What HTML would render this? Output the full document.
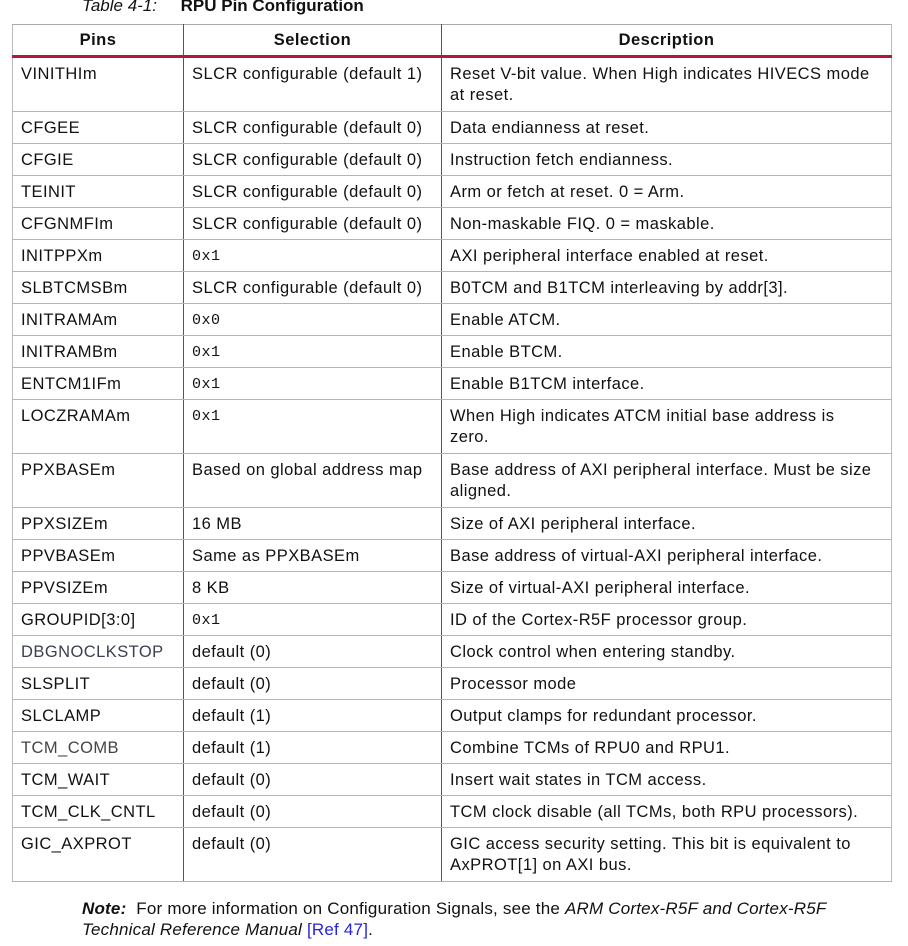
<!DOCTYPE html>
<html><head><meta charset="utf-8"><style>
body{margin:0;width:908px;height:946px;background:#fff;position:relative;overflow:hidden;font-family:"Liberation Sans",sans-serif;color:#111}
.t{position:absolute;top:-4px;left:82px;font-size:17px;white-space:nowrap}
table{position:absolute;left:12px;top:24px;width:879px;border-collapse:collapse;table-layout:fixed;font-size:16.5px;letter-spacing:0.45px}
td,th{border-top:1px solid #b4b4b4;border-bottom:1px solid #b4b4b4;border-left:1px solid #555;border-right:1px solid #555;padding:6px 8px 0 8px;vertical-align:top;line-height:21px;overflow:hidden;white-space:nowrap}
td:first-child,th:first-child{border-left:1px solid #bbb}
td:last-child,th:last-child{border-right:1px solid #bbb}
th{font-weight:bold;text-align:center;height:24px;padding-top:5px;border-bottom:3px solid #b3173c;border-top:1px solid #aaa}
tr{height:32px}
tr.d{height:54px}
td{height:25px}
tr.d td{height:47px;white-space:normal}
.m{font-family:"Liberation Mono",monospace;font-size:15px;letter-spacing:0.5px}
.n{position:absolute;left:82px;font-size:17px;letter-spacing:0.2px;white-space:nowrap}
</style></head><body>
<div class="t"><i>Table 4-1:</i>&nbsp;&nbsp;&nbsp;&nbsp; <b>RPU Pin Configuration</b></div>
<table>
<colgroup><col style="width:171px"><col style="width:258px"><col style="width:450px"></colgroup>
<tr><th>Pins</th><th>Selection</th><th>Description</th></tr>
<tr class="d"><td>VINITHIm</td><td>SLCR configurable (default 1)</td><td>Reset V-bit value. When High indicates HIVECS mode<br>at reset.</td></tr>
<tr><td>CFGEE</td><td>SLCR configurable (default 0)</td><td>Data endianness at reset.</td></tr>
<tr><td>CFGIE</td><td>SLCR configurable (default 0)</td><td>Instruction fetch endianness.</td></tr>
<tr><td>TEINIT</td><td>SLCR configurable (default 0)</td><td>Arm or fetch at reset. 0 = Arm.</td></tr>
<tr><td>CFGNMFIm</td><td>SLCR configurable (default 0)</td><td>Non-maskable FIQ. 0 = maskable.</td></tr>
<tr><td>INITPPXm</td><td class="m">0x1</td><td>AXI peripheral interface enabled at reset.</td></tr>
<tr><td>SLBTCMSBm</td><td>SLCR configurable (default 0)</td><td>B0TCM and B1TCM interleaving by addr[3].</td></tr>
<tr><td>INITRAMAm</td><td class="m">0x0</td><td>Enable ATCM.</td></tr>
<tr><td>INITRAMBm</td><td class="m">0x1</td><td>Enable BTCM.</td></tr>
<tr><td>ENTCM1IFm</td><td class="m">0x1</td><td>Enable B1TCM interface.</td></tr>
<tr class="d"><td>LOCZRAMAm</td><td class="m">0x1</td><td>When High indicates ATCM initial base address is<br>zero.</td></tr>
<tr class="d"><td>PPXBASEm</td><td>Based on global address map</td><td>Base address of AXI peripheral interface. Must be size<br>aligned.</td></tr>
<tr><td>PPXSIZEm</td><td>16 MB</td><td>Size of AXI peripheral interface.</td></tr>
<tr><td>PPVBASEm</td><td>Same as PPXBASEm</td><td>Base address of virtual-AXI peripheral interface.</td></tr>
<tr><td>PPVSIZEm</td><td>8 KB</td><td>Size of virtual-AXI peripheral interface.</td></tr>
<tr><td>GROUPID[3:0]</td><td class="m">0x1</td><td>ID of the Cortex-R5F processor group.</td></tr>
<tr><td style="color:#3a4050">DBGNOCLKSTOP</td><td>default (0)</td><td>Clock control when entering standby.</td></tr>
<tr><td>SLSPLIT</td><td>default (0)</td><td>Processor mode</td></tr>
<tr><td>SLCLAMP</td><td>default (1)</td><td>Output clamps for redundant processor.</td></tr>
<tr><td style="color:#444">TCM_COMB</td><td>default (1)</td><td>Combine TCMs of RPU0 and RPU1.</td></tr>
<tr><td>TCM_WAIT</td><td>default (0)</td><td>Insert wait states in TCM access.</td></tr>
<tr><td>TCM_CLK_CNTL</td><td>default (0)</td><td>TCM clock disable (all TCMs, both RPU processors).</td></tr>
<tr class="d"><td>GIC_AXPROT</td><td>default (0)</td><td>GIC access security setting. This bit is equivalent to<br>AxPROT[1] on AXI bus.</td></tr>
</table>
<div class="n" style="top:899px"><b><i>Note:</i></b>&nbsp; For more information on Configuration Signals, see the <i>ARM Cortex-R5F and Cortex-R5F</i></div>
<div class="n" style="top:920px"><i>Technical Reference Manual</i> <span style="color:#2323e0">[Ref 47]</span>.</div>
</body></html>
